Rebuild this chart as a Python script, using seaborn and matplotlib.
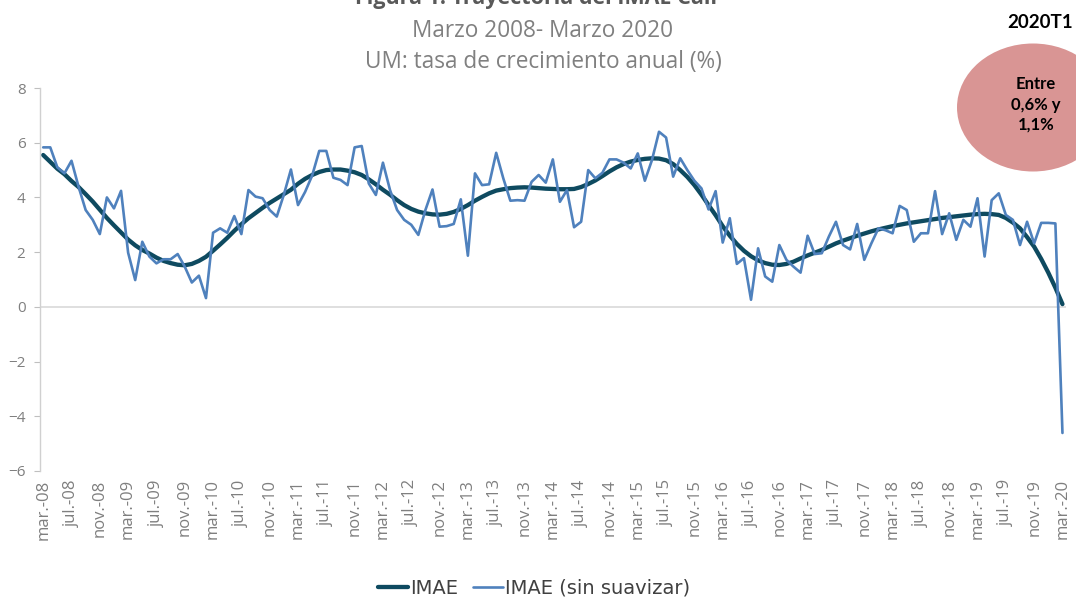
import numpy as np
import pandas as pd
import matplotlib
matplotlib.use("Agg")
import matplotlib.pyplot as plt
from matplotlib.patches import Ellipse
import seaborn as sns

# monthly annual growth rate, mar-2008 .. mar-2020
imae_raw = [
    5.83, 5.83, 5.10, 4.88, 5.34, 4.39, 3.54, 3.18, 2.66, 4.00,
    3.60, 4.24, 1.98, 0.98, 2.38, 1.84, 1.59, 1.74, 1.74, 1.93,
    1.47, 0.89, 1.14, 0.32, 2.71, 2.87, 2.71, 3.32, 2.66, 4.27,
    4.03, 3.97, 3.54, 3.30, 4.10, 5.02, 3.72, 4.20, 4.80, 5.70,
    5.70, 4.72, 4.64, 4.45, 5.83, 5.88, 4.51, 4.09, 5.27, 4.27,
    3.54, 3.18, 3.00, 2.63, 3.54, 4.29, 2.93, 2.95, 3.03, 3.93,
    1.87, 4.88, 4.45, 4.48, 5.63, 4.70, 3.88, 3.90, 3.88, 4.57,
    4.82, 4.54, 5.39, 3.84, 4.27, 2.91, 3.11, 5.00, 4.70, 4.90,
    5.39, 5.39, 5.27, 5.06, 5.61, 4.61, 5.36, 6.40, 6.19, 4.76,
    5.43, 5.00, 4.61, 4.33, 3.56, 4.23, 2.35, 3.24, 1.57, 1.78,
    0.26, 2.14, 1.11, 0.92, 2.26, 1.72, 1.47, 1.25, 2.60, 1.93,
    1.96, 2.57, 3.11, 2.26, 2.10, 3.03, 1.72, 2.32, 2.87, 2.80,
    2.69, 3.69, 3.54, 2.38, 2.69, 2.69, 4.23, 2.66, 3.42, 2.45,
    3.18, 2.93, 3.97, 1.84, 3.90, 4.15, 3.36, 3.18, 2.26, 3.11,
    2.32, 3.07, 3.07, 3.05, -4.61,
]

imae_smooth = [
    5.55, 5.30, 5.05, 4.85, 4.60, 4.38, 4.12, 3.85, 3.55, 3.25,
    2.98, 2.72, 2.46, 2.25, 2.08, 1.95, 1.80, 1.68, 1.60, 1.54,
    1.52, 1.57, 1.68, 1.83, 2.05, 2.28, 2.52, 2.78, 3.02, 3.24,
    3.43, 3.62, 3.80, 3.96, 4.12, 4.28, 4.50, 4.68, 4.82, 4.93,
    5.00, 5.02, 5.02, 4.98, 4.92, 4.82, 4.66, 4.48, 4.28, 4.10,
    3.90, 3.72, 3.58, 3.48, 3.42, 3.38, 3.37, 3.40, 3.47, 3.58,
    3.72, 3.88, 4.02, 4.15, 4.25, 4.30, 4.34, 4.36, 4.37, 4.36,
    4.34, 4.32, 4.31, 4.30, 4.30, 4.31, 4.38, 4.49, 4.62, 4.78,
    4.95, 5.10, 5.22, 5.31, 5.37, 5.41, 5.43, 5.42, 5.36, 5.22,
    5.00, 4.75, 4.45, 4.10, 3.72, 3.35, 2.95, 2.60, 2.30, 2.05,
    1.85, 1.70, 1.60, 1.54, 1.53, 1.57, 1.65, 1.77, 1.88, 1.98,
    2.08, 2.20, 2.32, 2.42, 2.51, 2.60, 2.68, 2.76, 2.83, 2.89,
    2.95, 3.00, 3.05, 3.09, 3.13, 3.17, 3.21, 3.25, 3.28, 3.31,
    3.34, 3.37, 3.39, 3.40, 3.39, 3.36, 3.25, 3.08, 2.87, 2.55,
    2.20, 1.75, 1.25, 0.70, 0.10,
]

month_abbr = {3: "mar.", 7: "jul.", 11: "nov."}
months = pd.date_range("2008-03-01", "2020-03-01", freq="MS")
tick_pos = list(range(0, len(months), 4))
tick_labels = [f"{month_abbr[months[i].month]}-{months[i].year % 100:02d}" for i in tick_pos]

df = pd.DataFrame({"idx": np.arange(len(months)), "IMAE": imae_smooth,
                   "IMAE (sin suavizar)": imae_raw})

sns.set_style("white")
plt.rcParams["font.family"] = ["Open Sans", "DejaVu Sans"]

fig = plt.figure(figsize=(10.76, 5.99), dpi=100)
ax = fig.add_axes([40 / 1076, 1 - 471 / 599, 1026 / 1076, 383 / 599])

sns.lineplot(data=df, x="idx", y="IMAE", ax=ax, color="#0E4A60", linewidth=3.1,
             label="IMAE")
sns.lineplot(data=df, x="idx", y="IMAE (sin suavizar)", ax=ax, color="#4F81BD",
             linewidth=1.9, label="IMAE (sin suavizar)")

ax.axhline(0, color="#d9d9d9", linewidth=1.2, zorder=0)
ax.set_ylim(-6, 8)
ax.set_yticks(range(-6, 9, 2))
ax.set_xlim(-0.45, 144.5)
ax.set_xticks(tick_pos)
ax.set_xticklabels(tick_labels, rotation=90, fontsize=12, color="#7f7f7f")
ax.tick_params(axis="x", length=0, pad=6)
ax.tick_params(axis="y", length=4.5, width=0.8, color="#bfbfbf", pad=6,
               labelsize=11, labelcolor="#7f7f7f", left=True)
ax.set_xlabel("")
ax.set_ylabel("")
for s in ["top", "right", "bottom"]:
    ax.spines[s].set_visible(False)
ax.spines["left"].set_color("#d0d0d0")
ax.spines["left"].set_linewidth(1.0)

ax.get_legend().remove()
handles, labels = ax.get_legend_handles_labels()
fig.legend(handles, labels, loc="center", bbox_to_anchor=(534 / 1076, 1 - 588 / 599),
           ncol=2, frameon=False, handlelength=1.55, handletextpad=0.1,
           columnspacing=0.8, labelcolor="#404040",
           prop={"family": ["DejaVu Sans"], "size": 14})

# titles
fig.text(536 / 1076, 1 - 4 / 599, "Figura 1. Trayectoria del IMAE Cali", ha="center",
         va="baseline", fontsize=15.5, fontweight="bold", color="#595959")
fig.text(542 / 1076, 1 - 31 / 599, "Marzo 2008- Marzo 2020", ha="center", va="center",
         fontsize=16.3, color="#808080")
fig.text(543 / 1076, 1 - 62 / 599, "UM: tasa de crecimiento anual (%)", ha="center",
         va="center", fontsize=16.3, color="#808080")

# forecast bubble
fig.add_artist(Ellipse((1033 / 1076, 1 - 107.5 / 599), 152 / 1076, 128 / 599,
                       transform=fig.transFigure, facecolor="#D99594", edgecolor="none"))
fig.text(1040 / 1076, 1 - 23 / 599, "2020T1", ha="center", va="center", fontsize=13.5,
         fontweight="bold", color="black", family=["Lato", "DejaVu Sans"])
for txt, yy in [("Entre", 84), ("0,6% y", 105), ("1,1%", 125)]:
    fig.text(1036 / 1076, 1 - yy / 599, txt, ha="center", va="center", fontsize=12,
             fontweight="bold", color="black", family=["Lato", "DejaVu Sans"])

fig.savefig("out.png", dpi=100)
